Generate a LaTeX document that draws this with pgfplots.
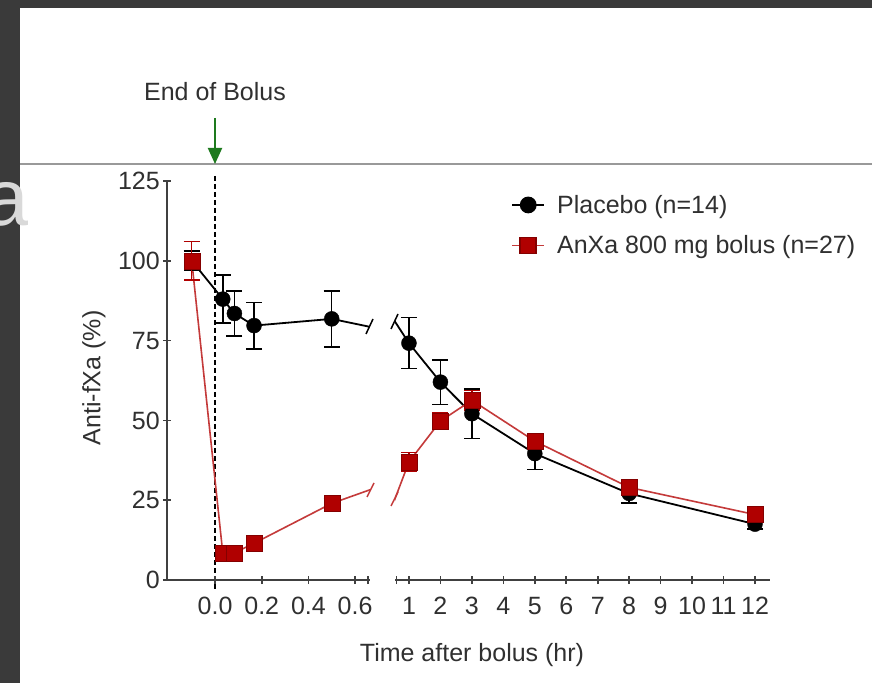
\documentclass[border=0pt]{standalone}
\usepackage{pgfplots}
\pgfplotsset{compat=1.18}
\usepackage{pgfplotstable}
\usepackage{fontspec}
\setmainfont{Liberation Sans}
\usetikzlibrary{arrows.meta}
\definecolor{txt}{HTML}{303030}
\definecolor{axc}{HTML}{404040}
\definecolor{mred}{HTML}{B00000}
\definecolor{lred}{HTML}{C43A3A}
\definecolor{grn}{HTML}{1E7A1E}
\definecolor{framec}{HTML}{3A3A3A}

\pgfplotstableread{
x y e
-0.1 100 3
0.033 88 7.5
0.083 83.5 7
0.167 79.7 7.3
0.5 81.8 8.8
1 74.2 8
2 62 7
3 52.1 7.8
5 39.6 5
8 27.1 3
12 17.5 1.5
}\placebo

\pgfplotstableread{
x y e
-0.1 100 6
0.033 8.5 1.5
0.083 8.5 1.5
0.167 11.5 1.5
0.5 24 1.5
1 37 3
2 49.8 2.5
3 56.3 3
5 43.5 2
8 29 1.5
12 20.5 1
}\anxa

\newcommand\F{\fontsize{25}{29}\selectfont}

\pgfplotsset{
  myax/.style={
    scale only axis, height=399pt, ymin=0, ymax=125,
    axis line style={axc, line width=1.6pt},
    tick style={axc, line width=1.6pt},
    major tick length=8pt, tick align=outside,
    ticklabel style={font=\F, text=txt},
    xticklabel style={inner sep=3pt, yshift=-10pt},
    yticklabel style={inner sep=3pt},
    clip=true,
  },
  noarrows/.style={
    every outer x axis line/.append style={-},
    every outer y axis line/.append style={-},
    every inner x axis line/.append style={-},
    every inner y axis line/.append style={-},
    x axis line style={-}, y axis line style={-},
  },
  pline/.style={black, line width=1.8pt, forget plot},
  rline/.style={lred, line width=1.6pt, forget plot},
  pmark/.style={only marks, mark=*, mark size=7.5pt, black, forget plot,
    error bars/y dir=both, error bars/y explicit,
    error bars/error bar style={line width=1.5pt, black},
    error bars/error mark options={rotate=90, mark size=8pt, line width=1.5pt, black}},
  rmark/.style={only marks, mark=square*, mark size=8pt, forget plot,
    mark options={fill=mred, draw=mred!75!black},
    error bars/y dir=both, error bars/y explicit,
    error bars/error bar style={line width=1.5pt, mred},
    error bars/error mark options={rotate=90, mark size=8pt, line width=1.5pt, mred}},
}

\begin{document}
\begin{tikzpicture}[x=1pt,y=1pt]
\useasboundingbox (0,0) rectangle (872,683);
\fill[white] (0,0) rectangle (872,683);
\fill[framec] (0,0) rectangle (20,683);
\fill[framec] (0,675) rectangle (872,683);
\begin{scope}
\clip (0,0) rectangle (27,683);
\node[anchor=base east, text=black!15, font=\fontsize{80}{86}\selectfont, inner sep=0pt] at (29,457) {a};
\end{scope}
\draw[black!40, line width=1.2pt] (20,519) -- (872,519);

% End of bolus annotation
\node[font=\F, text=txt] at (215,591) {End of Bolus};
\draw[grn, line width=2pt, -{Triangle[width=14pt,length=16pt]}] (215,565) -- (215,519);
\draw[black, line width=1.3pt, dash pattern=on 5pt off 3pt] (215,507) -- (215,93);

% left panel
\begin{axis}[myax, at={(167pt,103pt)}, anchor=south west, width=203pt,
  xmin=-0.206, xmax=0.664,
  axis x line=bottom, axis y line=left, noarrows,
  xtick={0,0.2,0.4,0.6}, xticklabels={0.0,0.2,0.4,0.6},
  extra x ticks={0.655}, extra x tick labels={},
  ytick={0,25,50,75,100,125}, yticklabels={0,25,50,75,100,125}]
\addplot[pline] table[x=x,y=y] {\placebo};
\addplot[rline] table[x=x,y=y] {\anxa};
\addplot[pmark, restrict x to domain=-1:0.7] table[x=x,y=y,y error=e] {\placebo};
\addplot[rmark, restrict x to domain=-1:0.7] table[x=x,y=y,y error=e] {\anxa};
\end{axis}

% right panel
\begin{axis}[myax, at={(394.8pt,103pt)}, anchor=south west, width=375.3pt,
  xmin=0.55, xmax=12.48,
  axis x line=bottom, axis y line=none, noarrows,
  xtick={1,...,12}, xticklabels={1,2,3,4,5,6,7,8,9,10,11,12},
  extra x ticks={0.6}, extra x tick labels={},
  legend style={at={(0.302,0.975)}, anchor=north west, draw=none, fill=none,
    font=\F, text=txt, row sep=17pt, column sep=10pt},
  legend cell align=left,
  legend image code/.code={\draw[mark repeat=2,mark phase=2] plot coordinates {(0pt,0pt) (16pt,0pt) (32pt,0pt)};}]
\addplot[pline] table[x=x,y=y] {\placebo};
\addplot[rline] table[x=x,y=y] {\anxa};
\addplot[pmark, restrict x to domain=0.7:13] table[x=x,y=y,y error=e] {\placebo};
\addplot[rmark, restrict x to domain=0.7:13] table[x=x,y=y,y error=e] {\anxa};
\addlegendimage{black, line width=1.8pt, mark=*, mark size=7.5pt}
\addlegendentry{Placebo (n=14)}
\addlegendimage{lred, line width=1.6pt, mark=square*, mark size=8pt, mark options={fill=mred, draw=mred!75!black}}
\addlegendentry{AnXa 800 mg bolus (n=27)}
\end{axis}

% break caps on the lines
\draw[black, line width=1.5pt] (366,349) -- (373,364);
\draw[lred, line width=1.5pt] (367,186) -- (374,200);
\draw[black, line width=1.5pt] (391,354) -- (398,369);
\draw[lred, line width=1.5pt] (391,177) -- (398,191);

% axis labels
\node[font=\F, text=txt, rotate=90] at (94,305) {Anti-fXa (\%)};
\node[font=\F, text=txt] at (472,28) {Time after bolus (hr)};
\end{tikzpicture}
\end{document}
